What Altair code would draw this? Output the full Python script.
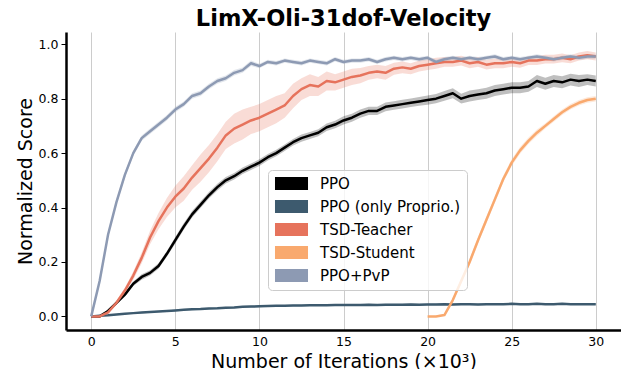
import altair as alt
import pandas as pd

FONT = "DejaVu Sans"

# iterations (x 10^3)
iters = [0, 0.5, 1, 1.5, 2, 2.5, 3, 3.5, 4, 4.5, 5, 5.5, 6, 6.5, 7, 7.5, 8, 8.5, 9, 9.5,
         10, 10.5, 11, 11.5, 12, 12.5, 13, 13.5, 14, 14.5, 15, 15.5, 16, 16.5, 17, 17.5, 18, 18.5, 19, 19.5,
         20, 20.5, 21, 21.5, 22, 22.5, 23, 23.5, 24, 24.5, 25, 25.5, 26, 26.5, 27, 27.5, 28, 28.5, 29, 29.5, 30]

student_iters = [20, 20.5, 21, 21.5, 22, 22.5, 23, 23.5, 24, 24.5, 25, 25.5, 26, 26.5, 27, 27.5, 28, 28.5, 29, 29.5, 30]

ppo = [0.0, 0.0, 0.02, 0.05, 0.08, 0.12, 0.145, 0.16, 0.185, 0.23,
       0.28, 0.33, 0.375, 0.41, 0.445, 0.475, 0.50, 0.515, 0.535, 0.55,
       0.565, 0.585, 0.60, 0.62, 0.64, 0.655, 0.665, 0.675, 0.695, 0.705,
       0.72, 0.73, 0.745, 0.755, 0.755, 0.77, 0.775, 0.78, 0.785, 0.79,
       0.795, 0.80, 0.81, 0.82, 0.80, 0.81, 0.815, 0.82, 0.83, 0.835,
       0.84, 0.84, 0.845, 0.865, 0.855, 0.865, 0.86, 0.87, 0.865, 0.87, 0.865]
ppo_sd = [0.0, 0.003, 0.005, 0.006, 0.008, 0.008, 0.01, 0.01, 0.01, 0.01,
          0.012, 0.012, 0.012, 0.012, 0.012, 0.012, 0.012, 0.012, 0.012, 0.012,
          0.012, 0.012, 0.012, 0.012, 0.012, 0.013, 0.013, 0.013, 0.014, 0.014,
          0.015, 0.015, 0.015, 0.015, 0.015, 0.016, 0.016, 0.016, 0.016, 0.016,
          0.017, 0.017, 0.018, 0.018, 0.018, 0.02, 0.02, 0.02, 0.02, 0.02,
          0.02, 0.02, 0.02, 0.022, 0.022, 0.022, 0.022, 0.022, 0.022, 0.02, 0.02]

proprio = [0.0, 0.002, 0.004, 0.007, 0.010, 0.012, 0.014, 0.016, 0.018, 0.020,
           0.022, 0.024, 0.026, 0.027, 0.029, 0.030, 0.032, 0.033, 0.035, 0.036,
           0.037, 0.038, 0.039, 0.039, 0.040, 0.040, 0.041, 0.041, 0.041, 0.042,
           0.042, 0.042, 0.042, 0.043, 0.042, 0.043, 0.043, 0.043, 0.044, 0.043,
           0.044, 0.044, 0.045, 0.044, 0.045, 0.045, 0.044, 0.045, 0.045, 0.045,
           0.046, 0.045, 0.045, 0.046, 0.045, 0.045, 0.046, 0.045, 0.045, 0.045, 0.045]
proprio_sd = [0.0, 0.001, 0.001, 0.002, 0.002, 0.002, 0.003, 0.003, 0.003, 0.003,
              0.003, 0.003, 0.003, 0.003, 0.003, 0.003, 0.003, 0.003, 0.003, 0.003,
              0.003, 0.003, 0.003, 0.003, 0.003, 0.003, 0.003, 0.003, 0.003, 0.003,
              0.003, 0.003, 0.003, 0.003, 0.003, 0.003, 0.003, 0.003, 0.003, 0.003,
              0.003, 0.003, 0.003, 0.003, 0.003, 0.003, 0.003, 0.003, 0.003, 0.003,
              0.003, 0.003, 0.003, 0.003, 0.003, 0.003, 0.003, 0.003, 0.003, 0.003, 0.003]

teacher = [0.0, 0.0, 0.015, 0.05, 0.095, 0.15, 0.215, 0.29, 0.35, 0.40,
           0.44, 0.47, 0.51, 0.545, 0.58, 0.62, 0.665, 0.69, 0.705, 0.72,
           0.73, 0.745, 0.76, 0.775, 0.81, 0.835, 0.85, 0.845, 0.865, 0.86,
           0.87, 0.88, 0.885, 0.895, 0.90, 0.895, 0.91, 0.915, 0.91, 0.92,
           0.925, 0.93, 0.935, 0.935, 0.94, 0.93, 0.935, 0.925, 0.93, 0.93,
           0.935, 0.93, 0.94, 0.94, 0.945, 0.945, 0.95, 0.945, 0.955, 0.96, 0.955]
teacher_sd = [0.0, 0.002, 0.005, 0.008, 0.01, 0.015, 0.02, 0.025, 0.03, 0.035,
              0.04, 0.045, 0.045, 0.05, 0.05, 0.05, 0.05, 0.055, 0.055, 0.05,
              0.05, 0.05, 0.05, 0.045, 0.045, 0.04, 0.04, 0.035, 0.035, 0.03,
              0.03, 0.03, 0.028, 0.025, 0.025, 0.025, 0.022, 0.022, 0.02, 0.02,
              0.02, 0.02, 0.018, 0.018, 0.018, 0.018, 0.018, 0.018, 0.018, 0.018,
              0.018, 0.016, 0.016, 0.016, 0.016, 0.016, 0.016, 0.015, 0.015, 0.015, 0.015]

student = [0.0, 0.0, 0.005, 0.06, 0.13, 0.20, 0.28, 0.355, 0.43, 0.505,
           0.565, 0.61, 0.645, 0.675, 0.70, 0.725, 0.75, 0.77, 0.785, 0.795, 0.80]
student_sd = [0.0, 0.002, 0.004, 0.008, 0.01, 0.012, 0.012, 0.012, 0.012, 0.012,
              0.012, 0.012, 0.012, 0.012, 0.01, 0.01, 0.01, 0.01, 0.01, 0.01, 0.01]

pvp = [0.0, 0.13, 0.30, 0.42, 0.52, 0.60, 0.655, 0.68, 0.705, 0.73,
       0.76, 0.78, 0.81, 0.82, 0.845, 0.865, 0.875, 0.895, 0.905, 0.93,
       0.92, 0.935, 0.93, 0.94, 0.935, 0.93, 0.94, 0.935, 0.93, 0.945,
       0.935, 0.94, 0.94, 0.945, 0.935, 0.945, 0.95, 0.945, 0.95, 0.945,
       0.95, 0.935, 0.945, 0.95, 0.945, 0.95, 0.945, 0.95, 0.955, 0.945,
       0.95, 0.945, 0.95, 0.955, 0.95, 0.945, 0.95, 0.955, 0.95, 0.955, 0.955]
pvp_sd = [0.0, 0.01, 0.01, 0.01, 0.01, 0.01, 0.01, 0.01, 0.01, 0.01,
          0.01, 0.01, 0.01, 0.01, 0.01, 0.01, 0.01, 0.01, 0.01, 0.01,
          0.008, 0.008, 0.008, 0.008, 0.008, 0.008, 0.008, 0.008, 0.008, 0.008,
          0.008, 0.008, 0.008, 0.008, 0.008, 0.008, 0.008, 0.008, 0.008, 0.008,
          0.008, 0.008, 0.008, 0.008, 0.008, 0.008, 0.008, 0.008, 0.008, 0.008,
          0.008, 0.008, 0.008, 0.008, 0.008, 0.008, 0.008, 0.008, 0.008, 0.008, 0.008]

names = ["PPO", "PPO (only Proprio.)", "TSD-Teacher", "TSD-Student", "PPO+PvP"]
colors = ["#000000", "#3D5A6E", "#E6735C", "#F9A96E", "#8D9AB3"]
widths = [3.2, 2.5, 2.5, 2.5, 2.5]

series = [
    (names[0], iters, ppo, ppo_sd),
    (names[1], iters, proprio, proprio_sd),
    (names[2], iters, teacher, teacher_sd),
    (names[3], student_iters, student, student_sd),
    (names[4], iters, pvp, pvp_sd),
]

rows = []
for name, xs, ys, sds in series:
    for x, y, s in zip(xs, ys, sds):
        rows.append({"series": name, "x": x, "y": y, "lo": y - s, "hi": y + s})
df = pd.DataFrame(rows)

xscale = alt.Scale(domain=[-1.5, 31.5], nice=False, zero=False)
yscale = alt.Scale(domain=[-0.05, 1.045], nice=False, zero=False)
# same mapping, listed in different orders so the un-legended scales never merge with the legend
legend_scale = alt.Scale(domain=names, range=colors)
band_scale = alt.Scale(domain=names[::-1], range=colors[::-1])
line_scale = alt.Scale(domain=names[1:] + names[:1], range=colors[1:] + colors[:1])
width_scale = alt.Scale(domain=names[1:] + names[:1], range=widths[1:] + widths[:1])

xaxis = alt.Axis(values=[0, 5, 10, 15, 20, 25, 30], title="Number of Iterations (×10³)",
                 grid=True, gridColor="#cccccc", gridWidth=1, ticks=False, tickSize=0,
                 labelPadding=5, labelFontSize=12.5, labelFont=FONT, labelColor="black",
                 titleFontSize=19, titleFont=FONT, titleFontWeight="normal", titleColor="black",
                 titlePadding=5, domainColor="black", domainWidth=2.5, labelFlush=False)
yaxis = alt.Axis(values=[0, 0.2, 0.4, 0.6, 0.8, 1.0], format=".1f", title="Normalized Score",
                 grid=False, ticks=True, tickSize=5, tickColor="black", tickWidth=1,
                 labelPadding=3, labelFontSize=12.5, labelFont=FONT, labelColor="black",
                 titleFontSize=19, titleFont=FONT, titleFontWeight="normal", titleColor="black",
                 titlePadding=3, domainColor="black", domainWidth=2.5, labelFlush=False)

band = alt.Chart(df).mark_area(fillOpacity=0.25).encode(
    x=alt.X("x:Q", scale=xscale, axis=xaxis),
    y=alt.Y("lo:Q", scale=yscale, axis=yaxis),
    y2="hi:Q",
    fill=alt.Fill("series:N", scale=band_scale, legend=None),
    detail="series:N",
)

lines = alt.Chart(df).mark_line(strokeJoin="round").encode(
    x=alt.X("x:Q", scale=xscale, axis=xaxis),
    y=alt.Y("y:Q", scale=yscale, axis=yaxis),
    stroke=alt.Stroke("series:N", scale=line_scale, legend=None),
    strokeWidth=alt.StrokeWidth("series:N", scale=width_scale, legend=None),
    order="x:Q",
)

legend = alt.Legend(
    title=None, orient="none", legendX=202, legendY=138,
    symbolType="M-2.54,-1H2.54V1H-2.54Z", symbolSize=169, symbolStrokeWidth=0,
    symbolOffset=10, labelOffset=21, labelFontSize=15, labelFont=FONT,
    labelColor="black", padding=6, rowPadding=7, strokeColor="#cccccc",
    fillColor="rgba(255,255,255,0.8)", cornerRadius=4, symbolOpacity=1,
)

# invisible layer (no rows pass the filter) that only carries the legend
keys = alt.Chart(df).mark_point(filled=True, opacity=1, size=0).encode(
    x=alt.X("x:Q", scale=xscale, axis=xaxis),
    y=alt.Y("y:Q", scale=yscale, axis=yaxis),
    color=alt.Color("series:N", scale=legend_scale, legend=legend),
).transform_filter("datum.x < -100")

chart = alt.layer(band, lines, keys).properties(
    width=555, height=298,
    padding={"left": 58, "top": 24, "right": 0, "bottom": 39},
    autosize="none",
    title=alt.Title("LimX-Oli-31dof-Velocity", fontSize=22.5, fontWeight="bold", font=FONT,
                    color="black", anchor="middle", offset=2),
).configure_view(stroke=None)

chart.save("out.html", embed_options={"renderer": "svg", "actions": False})
